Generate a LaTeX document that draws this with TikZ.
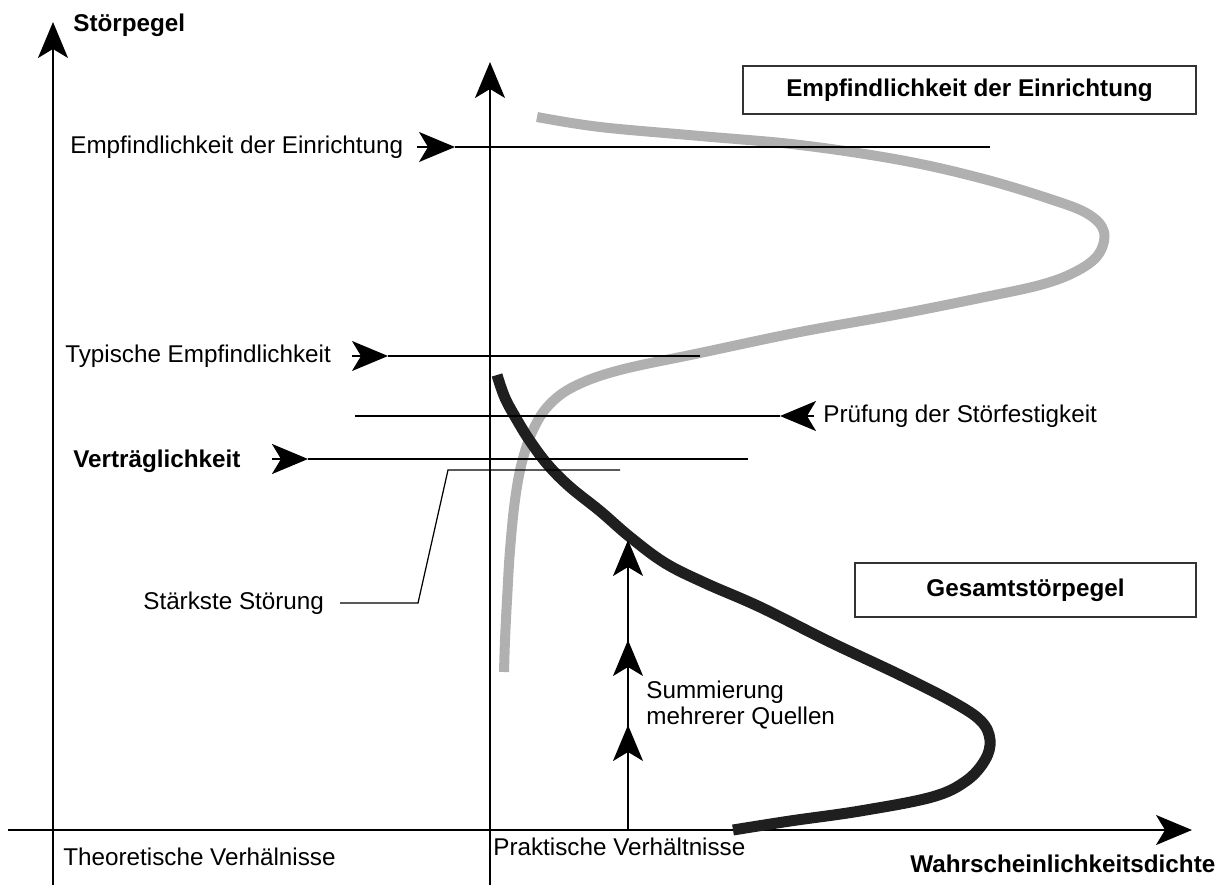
\documentclass[tikz,border=0pt]{standalone}
\usepackage{fontspec}
\setmainfont{Liberation Sans}
\usetikzlibrary{arrows.meta}
\begin{document}
\begin{tikzpicture}[x=0.02cm,y=-0.02cm,
  lbl/.style={anchor=west,inner sep=0pt,font=\fontsize{13.8}{16}\selectfont},
  blbl/.style={lbl,font=\fontsize{13.8}{16}\selectfont\bfseries},
  tip/.style={-{Stealth[length=0.72cm,width=0.6cm,inset=0.18cm]}},
  axis/.style={line width=1pt,tip},
  thinline/.style={line width=0.9pt},
  titlebox/.style={draw=black!80,line width=0.7pt,inner sep=0pt,
    font=\fontsize{13.8}{16}\selectfont\bfseries},
  pdfcurve/.style={line width=0.2cm,line cap=butt}
]
\useasboundingbox (0,0) rectangle (1222,885);

% axes
\coordinate (yTheoBot) at (53,885);
\coordinate (yTheoTop) at (53,22);
\coordinate (yPrakBot) at (490,885);
\coordinate (yPrakTop) at (490,62);
\coordinate (xLeft) at (8,830);
\coordinate (xRight) at (1192,830);
\draw[axis] (yTheoBot) -- (yTheoTop);
\draw[axis] (yPrakBot) -- (yPrakTop);
\draw[axis] (xLeft) -- (xRight);

% axis labels
\node[blbl] (ylab) at (73,25) {Störpegel};
\node[blbl] (xlab) at (910,864) {Wahrscheinlichkeitsdichte};
\node[lbl] (theo) at (63,857) {Theoretische Verhälnisse};
\node[lbl] (prak) at (493,847) {Praktische Verhältnisse};

% legend boxes
\node[titlebox,minimum width=9.06cm,minimum height=0.96cm] (boxE) at (969.5,90) {Empfindlichkeit der Einrichtung};
\node[titlebox,minimum width=6.82cm,minimum height=1.08cm] (boxG) at (1025.5,590) {Gesamtstörpegel};

% immunity distribution (grey)
\draw[pdfcurve,draw=black!31] plot[smooth,tension=0.6] coordinates {
  (537,117) (600,127) (700,136) (800,145) (900,160) (980,178) (1050,199)
  (1088,214) (1104,232) (1098,255) (1075,272) (1040,285) (980,298)
  (900,314) (800,332) (700,353) (620,370) (575,386) (549,405) (533,430)
  (522,462) (515,500) (510,550) (507,600) (505,640) (504,672)};

% total disturbance distribution (black)
\draw[pdfcurve,draw=black!88,line width=0.22cm] plot[smooth,tension=0.6] coordinates {
  (497,375) (505,398) (517,420) (530,441) (548,465) (570,487) (600,511)
  (630,537) (665,563) (705,583) (760,607) (830,642) (900,675) (953,702)
  (981,721) (990,740) (985,760) (966,781) (932,797) (860,811) (790,821) (733,830)};

% sensitivity of the equipment
\node[lbl] (empf) at (70,147) {Empfindlichkeit der Einrichtung};
\coordinate (empfBack) at (417,147);
\coordinate (empfTip) at (455,147);
\coordinate (empfEnd) at (990,147);
\draw[thinline,tip] (empfBack) -- (empfTip);
\draw[thinline] (empfTip) -- (empfEnd);

% typical sensitivity
\node[lbl] (typ) at (65,356) {Typische Empfindlichkeit};
\coordinate (typBack) at (352,356);
\coordinate (typTip) at (388,356);
\coordinate (typEnd) at (700,356);
\draw[thinline,tip] (typBack) -- (typTip);
\draw[thinline] (typTip) -- (typEnd);

% immunity test level
\node[lbl] (pruef) at (823,416) {Prüfung der Störfestigkeit};
\coordinate (pruefBack) at (814,416);
\coordinate (pruefTip) at (780,416);
\coordinate (pruefEnd) at (355,416);
\draw[thinline,tip] (pruefBack) -- (pruefTip);
\draw[thinline] (pruefTip) -- (pruefEnd);

% compatibility level
\node[blbl] (vert) at (73,461) {Verträglichkeit};
\coordinate (vertBack) at (272,459);
\coordinate (vertTip) at (308,459);
\coordinate (vertEnd) at (748,459);
\draw[line width=1.4pt,tip] (vertBack) -- (vertTip);
\draw[line width=1.4pt] (vertTip) -- (vertEnd);

% strongest disturbance
\node[lbl] (stark) at (143,603) {Stärkste Störung};
\coordinate (starkA) at (340,603);
\coordinate (starkB) at (418,603);
\coordinate (starkC) at (448,470);
\coordinate (starkD) at (620,470);
\draw[line width=0.7pt] (starkA) -- (starkB) -- (starkC) -- (starkD);

% summation of several sources
\coordinate (sumBot) at (628,830);
\coordinate (sumTip) at (628,540);
\coordinate (sumMidA) at (628,640);
\coordinate (sumMidB) at (628,725);
\draw[thinline,tip] (sumBot) -- (sumTip);
\draw[thinline,tip] (628,680) -- (sumMidA);
\draw[thinline,tip] (628,765) -- (sumMidB);
\node[lbl,align=left,font=\fontsize{13.8}{15.3}\selectfont] (sum) at (646,705) {Summierung\\mehrerer Quellen};

\end{tikzpicture}
\end{document}
